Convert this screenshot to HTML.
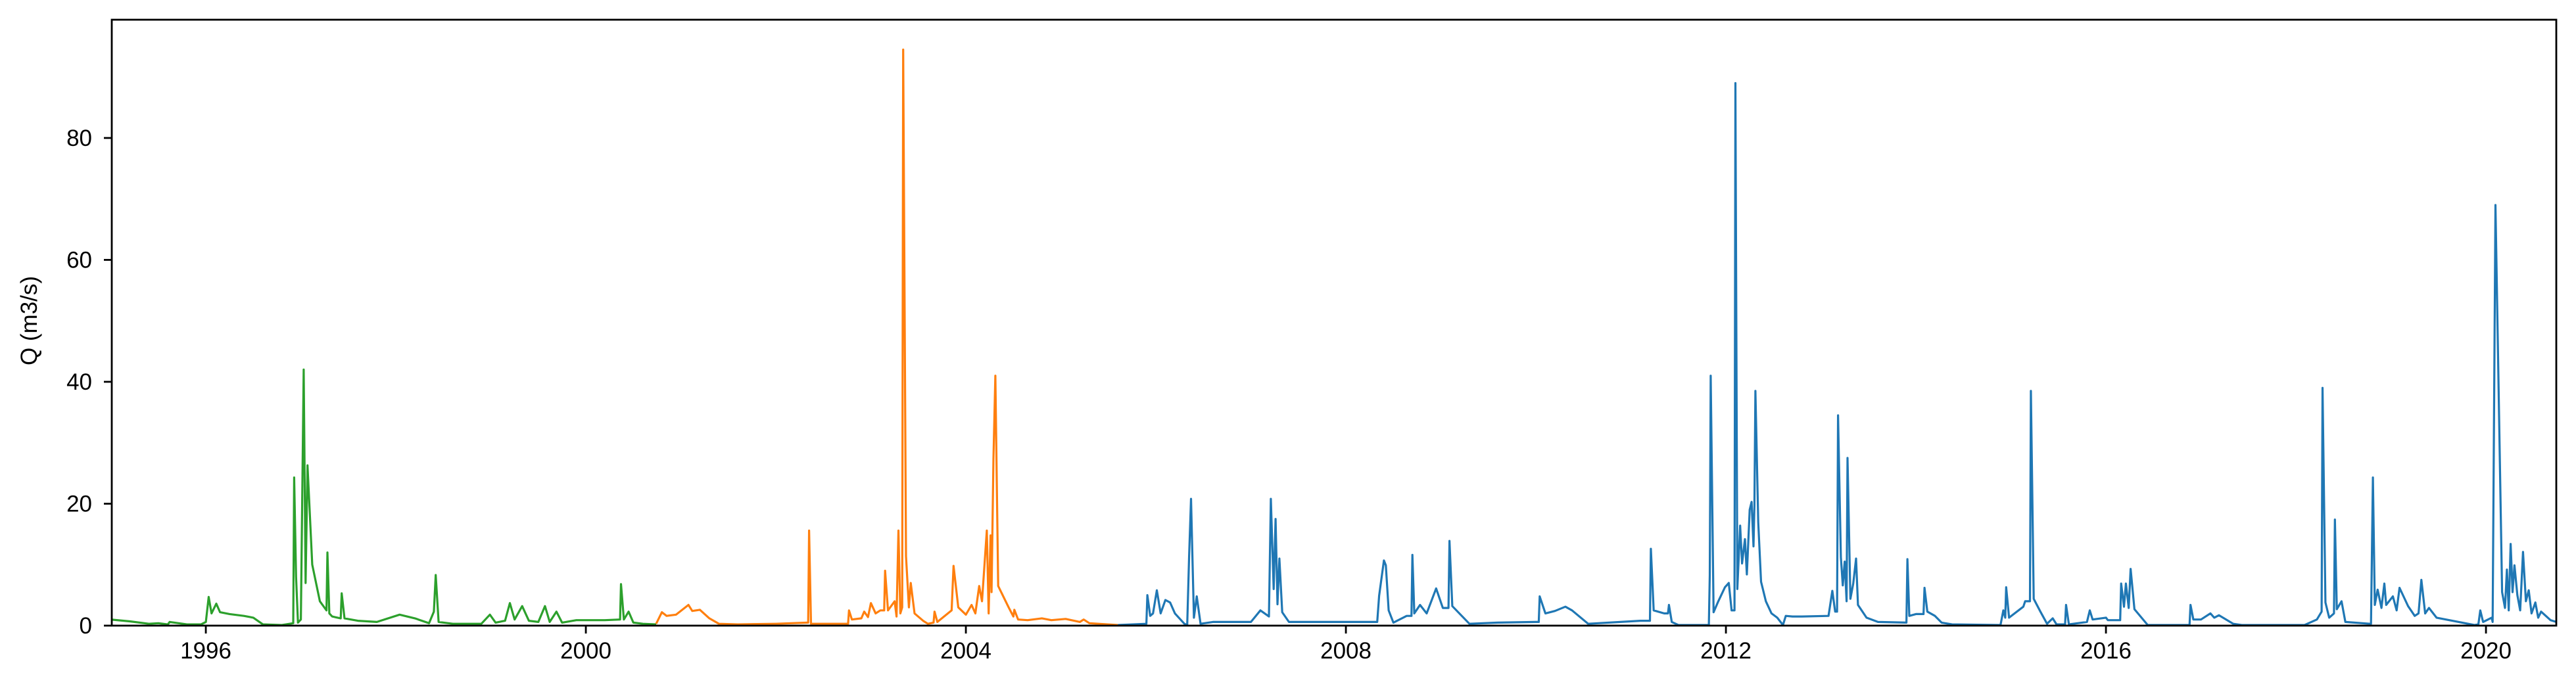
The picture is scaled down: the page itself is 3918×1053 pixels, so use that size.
<!DOCTYPE html>
<html><head><meta charset="utf-8"><style>
html,body{margin:0;padding:0;background:#fff;}
svg{display:block;font-family:"Liberation Sans","DejaVu Sans",sans-serif;}
</style></head><body>
<svg id="chart" width="3918" height="1053" viewBox="0 0 3918 1053" xmlns="http://www.w3.org/2000/svg">
<rect x="0" y="0" width="3918" height="1053" fill="#fff"/>
<defs><clipPath id="plotclip"><rect x="170" y="30" width="3718" height="922"/></clipPath></defs>
<g id="series" clip-path="url(#plotclip)"></g>
<g id="axes"></g>
<text x="0" y="0" transform="translate(56,488) rotate(-90)" text-anchor="middle" font-size="35" fill="#000">Q (m3/s)</text>
</svg>
<script>
const xTicks = [1996, 2000, 2004, 2008, 2012, 2016, 2020];
const yTicks = [0, 20, 40, 60, 80];
const greenX = [1995.0,1995.2,1995.4,1995.5,1995.6,1995.62,1995.8,1995.95,1996.0,1996.03,1996.06,1996.11,1996.15,1996.25,1996.4,1996.5,1996.6,1996.8,1996.92,1996.93,1996.95,1996.97,1997.0,1997.03,1997.05,1997.07,1997.12,1997.2,1997.27,1997.28,1997.3,1997.33,1997.42,1997.43,1997.46,1997.6,1997.8,1998.04,1998.2,1998.35,1998.4,1998.42,1998.45,1998.6,1998.9,1998.99,1999.05,1999.15,1999.2,1999.25,1999.33,1999.4,1999.5,1999.57,1999.62,1999.69,1999.75,1999.9,2000.2,2000.36,2000.37,2000.4,2000.45,2000.5,2000.6,2000.74];
const greenY = [1.0,0.7,0.3,0.4,0.2,0.6,0.2,0.2,0.6,4.7,2.0,3.6,2.2,1.9,1.6,1.3,0.2,0.1,0.4,24.3,8,0.5,1,42,7,26.3,10,4,2.5,12,2,1.5,1.2,5.3,1.2,0.8,0.6,1.8,1.2,0.4,2.3,8.3,0.6,0.3,0.3,1.8,0.5,0.8,3.7,1.0,3.2,0.8,0.6,3.2,0.6,2.3,0.5,0.9,0.9,1.0,6.8,1.0,2.3,0.5,0.3,0.2];
const orangeX = [2000.74,2000.8,2000.85,2000.95,2001.08,2001.12,2001.2,2001.3,2001.4,2001.6,2002.0,2002.34,2002.35,2002.37,2002.5,2002.76,2002.77,2002.8,2002.9,2002.93,2002.97,2003.0,2003.05,2003.1,2003.14,2003.15,2003.18,2003.25,2003.27,2003.29,2003.31,2003.33,2003.34,2003.37,2003.4,2003.42,2003.46,2003.55,2003.6,2003.66,2003.67,2003.7,2003.85,2003.87,2003.92,2004.0,2004.06,2004.1,2004.14,2004.17,2004.22,2004.24,2004.26,2004.27,2004.29,2004.31,2004.34,2004.45,2004.5,2004.51,2004.55,2004.65,2004.8,2004.9,2005.05,2005.2,2005.24,2005.3,2005.6];
const orangeY = [0.3,2.2,1.6,1.8,3.4,2.4,2.6,1.2,0.3,0.2,0.3,0.5,15.6,0.3,0.3,0.3,2.5,1.0,1.2,2.3,1.4,3.7,2.0,2.5,2.5,9.0,2.5,4.0,1.5,15.6,2,3,94.5,11.4,3,7,2,0.8,0.3,0.5,2.3,0.6,2.5,9.8,3,1.8,3.4,2,6.5,4,15.6,2,14.8,5.5,27.4,41,6.5,3,1.5,2.6,1.0,0.9,1.2,0.9,1.1,0.6,1.0,0.4,0.1];
const blueX = [2005.6,2005.9,2005.91,2005.94,2005.97,2006.01,2006.05,2006.1,2006.15,2006.2,2006.3,2006.33,2006.35,2006.37,2006.4,2006.43,2006.47,2006.6,2007.0,2007.1,2007.19,2007.21,2007.24,2007.26,2007.28,2007.3,2007.33,2007.4,2007.6,2008.0,2008.33,2008.35,2008.4,2008.42,2008.45,2008.5,2008.64,2008.69,2008.7,2008.72,2008.78,2008.85,2008.95,2009.02,2009.08,2009.09,2009.12,2009.3,2009.6,2010.0,2010.03,2010.04,2010.1,2010.2,2010.31,2010.38,2010.55,2011.1,2011.2,2011.21,2011.24,2011.35,2011.39,2011.4,2011.43,2011.5,2011.82,2011.83,2011.84,2011.87,2011.92,2011.99,2012.03,2012.06,2012.09,2012.1,2012.12,2012.15,2012.17,2012.2,2012.22,2012.25,2012.27,2012.29,2012.3,2012.31,2012.34,2012.37,2012.42,2012.48,2012.54,2012.6,2012.63,2012.7,2012.8,2013.08,2013.12,2013.15,2013.17,2013.18,2013.21,2013.23,2013.25,2013.27,2013.28,2013.31,2013.34,2013.37,2013.39,2013.48,2013.6,2013.9,2013.91,2013.93,2014.0,2014.08,2014.09,2014.12,2014.2,2014.27,2014.38,2014.89,2014.92,2014.94,2014.95,2014.98,2015.13,2015.15,2015.2,2015.21,2015.24,2015.31,2015.38,2015.44,2015.48,2015.57,2015.58,2015.61,2015.8,2015.83,2015.86,2016.0,2016.02,2016.1,2016.15,2016.16,2016.19,2016.21,2016.24,2016.26,2016.3,2016.44,2016.88,2016.89,2016.92,2017.0,2017.1,2017.14,2017.19,2017.34,2017.43,2018.09,2018.22,2018.27,2018.28,2018.31,2018.35,2018.4,2018.41,2018.43,2018.48,2018.52,2018.78,2018.79,2018.81,2018.83,2018.86,2018.9,2018.93,2018.95,2019.02,2019.06,2019.09,2019.18,2019.25,2019.29,2019.32,2019.36,2019.4,2019.48,2019.88,2019.92,2019.94,2019.97,2020.06,2020.07,2020.1,2020.17,2020.2,2020.22,2020.24,2020.26,2020.28,2020.3,2020.33,2020.36,2020.39,2020.42,2020.45,2020.48,2020.52,2020.55,2020.58,2020.68,2020.74];
const blueY = [0.1,0.3,5,1.6,2.0,5.8,2,4.2,3.8,2,0.3,0.1,11.4,20.8,1.3,4.8,0.3,0.6,0.6,2.5,1.5,20.8,6,17.5,3.5,11,2.2,0.6,0.6,0.6,0.6,4.9,10.7,9.9,2.5,0.5,1.6,1.6,11.6,2,3.4,2,6.1,2.9,2.9,13.9,3.2,0.3,0.5,0.6,0.6,4.8,2,2.4,3.1,2.5,0.3,0.8,0.8,12.6,2.5,2,2,3.4,0.6,0.1,0.1,8.3,41,2.2,4,6.3,7,2.5,2.5,89,6,16.4,10.2,14.2,8.4,19,20.3,13,19.6,38.5,17,7.2,4,2,1.3,0.1,1.6,1.5,1.5,1.6,5.7,2.3,2.3,34.5,11.2,6.6,10.5,4,27.5,4.4,6.9,11,3.4,1.3,0.6,0.5,10.9,1.6,1.9,1.9,6.2,2.3,1.6,0.5,0.2,0.1,2.5,1.3,6.3,1.3,3.1,4,4,38.5,4.4,2.3,0.3,1.2,0.2,0.2,3.4,0.2,0.6,2.5,1,1.3,0.9,0.9,0.9,6.9,3.1,6.9,2.9,9.3,2.7,0.1,0.1,3.4,1,1,2,1.3,1.7,0.3,0.1,0.1,1,2.3,39,3.8,1.3,2,17.4,2.7,4,0.6,0.3,0.3,24.3,3.4,5.9,2.9,6.9,3.4,4.8,2.5,6.2,3.2,1.6,2,7.5,2,2.9,1.3,0.1,0.2,2.5,0.6,1.3,0.6,69,5.5,2.9,9.2,2.5,13.4,5.5,9.9,5,2.5,12.1,4,5.8,2,3.8,1.3,2.3,0.9,0.6,0.7];

const X0 = 170, X1 = 3888, Y0 = 952, Y1 = 30;
const xmin = 1995.01, xmax = 2020.74, ymin = 0, ymax = 99.4;
function xs(v){ return X0 + (v - xmin) / (xmax - xmin) * (X1 - X0); }
function ys(v){ return Y0 - (v - ymin) / (ymax - ymin) * (Y0 - Y1); }
const NS = "http://www.w3.org/2000/svg";
const gS = document.getElementById('series');
const gA = document.getElementById('axes');
function line(xa, ya, color, name){
  const p = document.createElementNS(NS, 'path');
  let d = '';
  for (let i = 0; i < xa.length; i++) d += (i ? 'L' : 'M') + xs(xa[i]).toFixed(1) + ',' + ys(ya[i]).toFixed(1);
  p.setAttribute('d', d);
  p.setAttribute('fill', 'none');
  p.setAttribute('stroke', color);
  p.setAttribute('stroke-width', '3.2');
  p.setAttribute('stroke-linejoin', 'round');
  
  
  gS.appendChild(p);
}
line(greenX, greenY, '#2ca02c', 'series-1995-2000');
line(orangeX, orangeY, '#ff7f0e', 'series-2000-2005');
line(blueX, blueY, '#1f77b4', 'series-2005-2020');

const frame = document.createElementNS(NS, 'rect');
frame.setAttribute('x', X0); frame.setAttribute('y', Y1);
frame.setAttribute('width', X1 - X0); frame.setAttribute('height', Y0 - Y1);
frame.setAttribute('fill', 'none'); frame.setAttribute('stroke', '#000'); frame.setAttribute('stroke-width', '2.8');


gA.appendChild(frame);

xTicks.forEach(function(t){
  const x = xs(t);
  const l = document.createElementNS(NS, 'line');
  l.setAttribute('x1', x); l.setAttribute('x2', x); l.setAttribute('y1', Y0); l.setAttribute('y2', Y0 + 12);
  l.setAttribute('stroke', '#000'); l.setAttribute('stroke-width', '2.8');
  
  
  gA.appendChild(l);
  const tx = document.createElementNS(NS, 'text');
  tx.setAttribute('x', x); tx.setAttribute('y', Y0 + 50);
  tx.setAttribute('text-anchor', 'middle'); tx.setAttribute('font-size', '35');
  tx.textContent = t;
  
  
  gA.appendChild(tx);
});
yTicks.forEach(function(t){
  const y = ys(t);
  const l = document.createElementNS(NS, 'line');
  l.setAttribute('x1', X0 - 12); l.setAttribute('x2', X0); l.setAttribute('y1', y); l.setAttribute('y2', y);
  l.setAttribute('stroke', '#000'); l.setAttribute('stroke-width', '2.8');
  
  
  gA.appendChild(l);
  const tx = document.createElementNS(NS, 'text');
  tx.setAttribute('x', X0 - 30); tx.setAttribute('y', y + 12);
  tx.setAttribute('text-anchor', 'end'); tx.setAttribute('font-size', '35');
  tx.textContent = t;
  
  
  gA.appendChild(tx);
});
</script>
</body></html>
